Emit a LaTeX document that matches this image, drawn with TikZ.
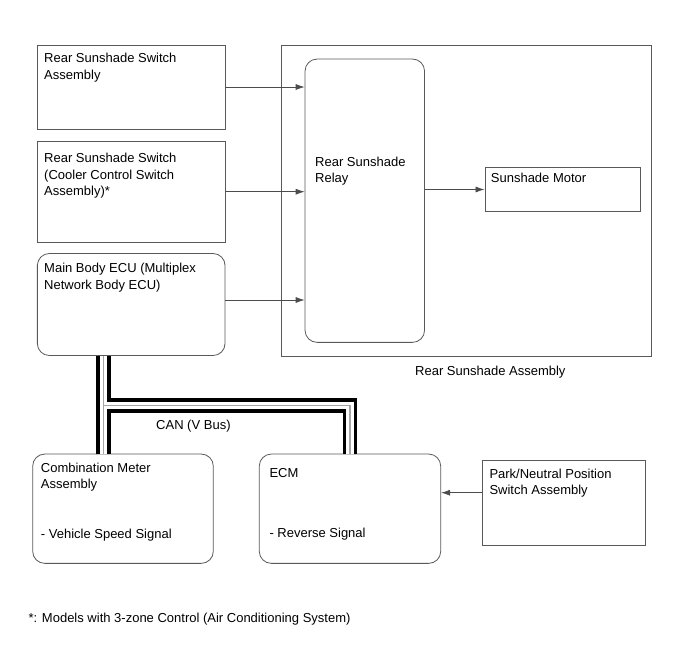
\documentclass[tikz,border=0pt]{standalone}
\usepackage{fontspec}
\setmainfont{Liberation Sans}
\usetikzlibrary{arrows.meta,positioning}

\begin{document}
\begin{tikzpicture}[
  x=1pt, y=-1pt,
  block/.style={draw=black!65, line width=0.8pt, inner sep=0pt},
  rblock/.style={block, rounded corners=12pt},
  label/.style={anchor=base west, align=left, inner sep=0pt, font=\fontsize{13}{16.5}\selectfont},
  arrow/.style={-{Latex[length=9pt,width=6pt]}, draw=black!70, line width=0.7pt},
  busBlack/.style={line width=14.7pt, draw=black},
  busWhite/.style={line width=7.4pt, draw=white},
  busGray/.style={line width=1.4pt, draw=black!35}
]
\useasboundingbox (0,0) rectangle (690,659);

% switches and ECU on the left (labels anchored on their last line)
\node[block, minimum width=187.7pt, minimum height=84pt] (swA) at (131.2,87) {};
\node[block, minimum width=187.7pt, minimum height=101.5pt] (swB) at (131.2,191.7) {};
\node[rblock, minimum width=187.7pt, minimum height=102pt] (ecu) at (131.2,304.5) {};
\node[label] (swAtext) at (44,79.2) {Rear Sunshade Switch\\Assembly};
\node[label] (swBtext) at (44,195.7) {Rear Sunshade Switch\\(Cooler Control Switch\\Assembly)*};
\node[label] (ecutext) at (44,289.2) {Main Body ECU (Multiplex\\Network Body ECU)};

% sunshade assembly
\node[block, minimum width=370pt, minimum height=311.5pt] (assy) at (466.5,200.7) {};
\node[rblock, minimum width=119.5pt, minimum height=283.3pt] (relay) at (364.8,200.7) {};
\node[block, minimum width=155.7pt, minimum height=44.4pt] (motor) at (562.8,189.5) {};
\node[label] (relaytext) at (315,182.5) {Rear Sunshade\\Relay};
\node[label] (motortext) at (490.7,182.3) {Sunshade Motor};
\node[label] (assytext) at (415,375.7) {Rear Sunshade Assembly};

% bottom row
\node[rblock, minimum width=180.6pt, minimum height=109.3pt] (meter) at (123,508.7) {};
\node[rblock, minimum width=181.4pt, minimum height=109.3pt] (ecm) at (350,508.7) {};
\node[block, minimum width=162.7pt, minimum height=85pt] (pnp) at (563.7,503.2) {};
\node[label] (metertext) at (40.7,538.3) {Combination Meter\\Assembly\\[33pt]- Vehicle Speed Signal};
\node[label] (ecmtext) at (269.3,537.3) {ECM\\[43.5pt]- Reverse Signal};
\node[label] (pnptext) at (489.3,494.8) {Park/Neutral Position\\Switch Assembly};
\node[label] (cantext) at (156,429) {CAN (V Bus)};
\node[label] (note) at (28.3,622.7) {*: Models with 3-zone Control (Air Conditioning System)};

% signals
\draw[arrow] (swA.east) -- (swA.east -| relay.west);
\draw[arrow] (swB.east) -- (swB.east -| relay.west);
\draw[arrow] ([yshift=4.5pt]ecu.east) -- ([yshift=4.5pt]ecu.east -| relay.west);
\draw[arrow] (motor.west -| relay.east) -- (motor.west);
\draw[arrow] ([yshift=10.5pt]pnp.west) -- ([yshift=10.5pt]pnp.west -| ecm.east);

% CAN bus
\coordinate (busL) at (103.3,405.3);
\foreach \layer in {busBlack,busWhite,busGray}{
  \draw[\layer] (busL |- ecu.south) -- (busL |- meter.north);
  \draw[\layer] (busL |- ecu.south) -- (busL) -| (ecm.north);
}
\end{tikzpicture}
\end{document}
